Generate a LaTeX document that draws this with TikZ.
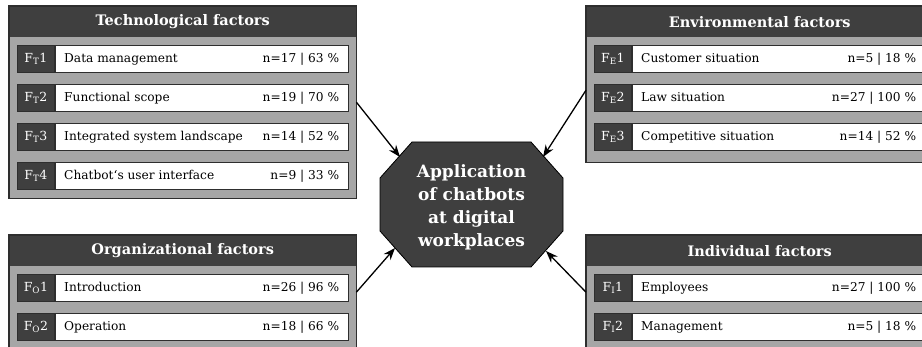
\documentclass[tikz,border=0pt]{standalone}
\usepackage{fontspec}
\setmainfont{DejaVu Serif}
\usetikzlibrary{arrows.meta,calc}
\definecolor{darkfill}{HTML}{3F3F3F}
\definecolor{panelgray}{HTML}{A6A6A6}
\definecolor{edgegray}{HTML}{2E2E2E}

\newcommand{\rowtext}[2]{\makebox[275pt]{#1\hfill #2}}

\begin{document}
\begin{tikzpicture}[x=1pt,y=-1pt,
  panel/.style={fill=panelgray, minimum width=347pt, inner sep=0pt, anchor=north west},
  border/.style={draw=edgegray, line width=1.2pt},
  header/.style={fill=darkfill, text=white, font=\fontsize{14.5}{17}\selectfont\bfseries,
    minimum width=347pt, minimum height=31pt, inner sep=0pt, anchor=north west},
  tag/.style={draw=edgegray, fill=darkfill, text=white, line width=0.8pt,
    minimum width=37pt, minimum height=27pt, inner sep=0pt, anchor=north west,
    font=\fontsize{12.5}{14}\selectfont},
  item/.style={draw=edgegray, fill=white, line width=0.8pt, minimum width=293pt,
    minimum height=27pt, inner xsep=9pt, inner ysep=0pt, anchor=west,
    font=\fontsize{12.2}{14}\selectfont},
  octo/.style={draw=black, fill=darkfill, line width=0.8pt},
  apptext/.style={text=white, align=center, inner sep=0pt,
    font=\fontsize{17}{23}\selectfont\bfseries},
  link/.style={-{Stealth[length=12pt,width=9pt]}, line width=1.3pt, black},
]
\useasboundingbox (0,0) rectangle (922,347);
\fill[white] (0,0) rectangle (922,347);
\clip (0,0) rectangle (922,347);

% ---------- Technological factors ----------
\node[panel, minimum height=192pt] (tech) at (9,6) {};
\node[header] (techh) at (9,6) {Technological factors};
\draw[border] (tech.north west) rectangle (tech.south east);
\node[tag] (t1) at (17,45) {F\textsubscript{T}1};
\node[item] (t1i) at (t1.east) {\rowtext{Data management}{n=17 | 63 \%}};
\node[tag] (t2) at (17,84) {F\textsubscript{T}2};
\node[item] (t2i) at (t2.east) {\rowtext{Functional scope}{n=19 | 70 \%}};
\node[tag] (t3) at (17,123) {F\textsubscript{T}3};
\node[item] (t3i) at (t3.east) {\rowtext{Integrated system landscape}{n=14 | 52 \%}};
\node[tag] (t4) at (17,162) {F\textsubscript{T}4};
\node[item] (t4i) at (t4.east) {\rowtext{Chatbot‘s user interface}{n=9 | 33 \%}};

% ---------- Organizational factors ----------
\node[panel, minimum height=114pt] (org) at (9,235) {};
\node[header] (orgh) at (9,235) {Organizational factors};
\draw[border] (org.north west) rectangle (org.south east);
\node[tag] (o1t) at (17,274) {F\textsubscript{O}1};
\node[item] (o1i) at (o1t.east) {\rowtext{Introduction}{n=26 | 96 \%}};
\node[tag] (o2t) at (17,313) {F\textsubscript{O}2};
\node[item] (o2i) at (o2t.east) {\rowtext{Operation}{n=18 | 66 \%}};

% ---------- Environmental factors ----------
\node[panel, minimum height=156pt] (env) at (586,6) {};
\node[header] (envh) at (586,6) {Environmental factors};
\draw[border] (env.north west) rectangle (env.south east);
\node[tag] (e1) at (594,45) {F\textsubscript{E}1};
\node[item] (e1i) at (e1.east) {\rowtext{Customer situation}{n=5 | 18 \%}};
\node[tag] (e2) at (594,84) {F\textsubscript{E}2};
\node[item] (e2i) at (e2.east) {\rowtext{Law situation}{n=27 | 100 \%}};
\node[tag] (e3) at (594,123) {F\textsubscript{E}3};
\node[item] (e3i) at (e3.east) {\rowtext{Competitive situation}{n=14 | 52 \%}};

% ---------- Individual factors ----------
\node[panel, minimum height=114pt] (ind) at (586,235) {};
\node[header] (indh) at (586,235) {Individual factors};
\draw[border] (ind.north west) rectangle (ind.south east);
\node[tag] (i1) at (594,274) {F\textsubscript{I}1};
\node[item] (i1i) at (i1.east) {\rowtext{Employees}{n=27 | 100 \%}};
\node[tag] (i2) at (594,313) {F\textsubscript{I}2};
\node[item] (i2i) at (i2.east) {\rowtext{Management}{n=5 | 18 \%}};

% ---------- central octagon ----------
\coordinate (c1) at (380,178);
\coordinate (c2) at (412,142);
\coordinate (c3) at (531,142);
\coordinate (c4) at (563,178);
\coordinate (c5) at (563,231);
\coordinate (c6) at (531,267);
\coordinate (c7) at (412,267);
\coordinate (c8) at (380,231);
\draw[octo] (c1) -- (c2) -- (c3) -- (c4) -- (c5) -- (c6) -- (c7) -- (c8) -- cycle;
\node[apptext] (app) at (471.5,207) {Application\\of chatbots\\at digital\\workplaces};

% arrow targets on the slanted edges
\coordinate (tipT) at (400,157);
\coordinate (tipE) at (543,157);
\coordinate (tipO) at (395,248);
\coordinate (tipI) at (546,251);

\draw[link] (tech.east) -- (tipT);
\draw[link] ([yshift=-6pt]env.west) -- (tipE);
\draw[link] (org.east) -- (tipO);
\draw[link] (ind.west) -- (tipI);
\end{tikzpicture}
\end{document}
